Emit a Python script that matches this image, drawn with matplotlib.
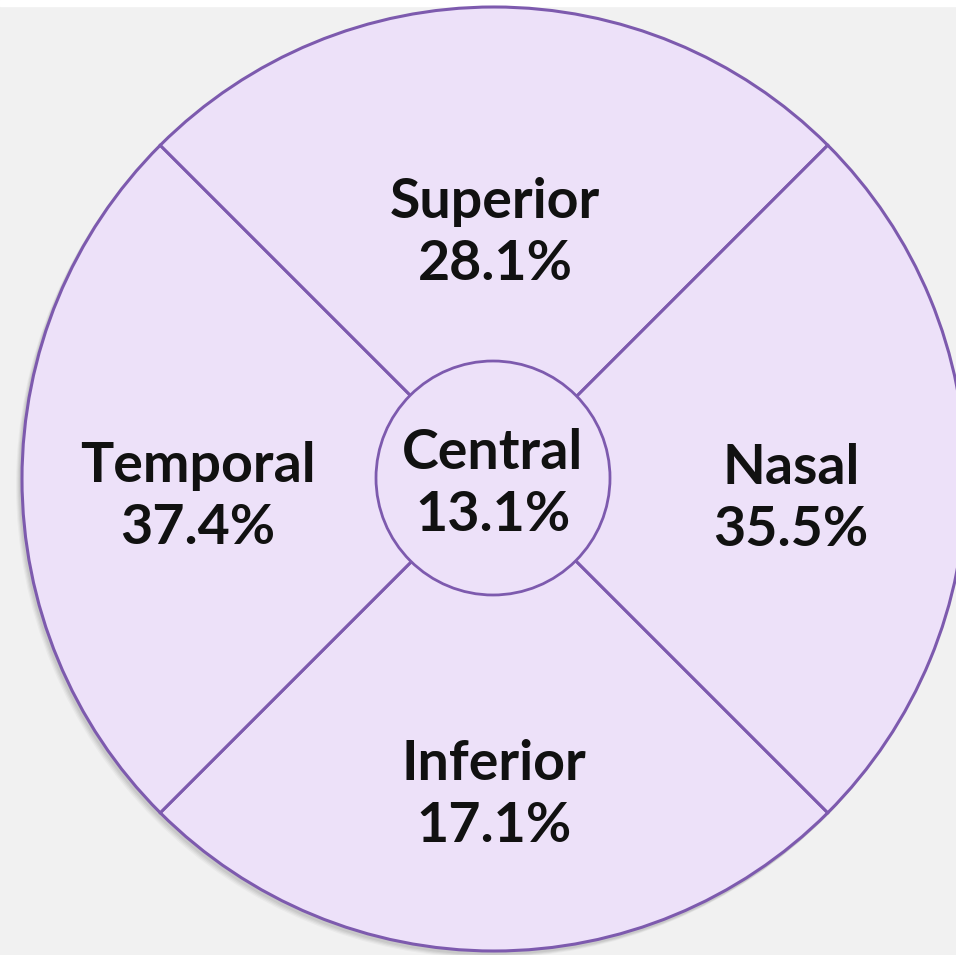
import matplotlib.pyplot as plt
from matplotlib.patches import Circle, Rectangle

# retinal regions and their shares
regions = ["Superior", "Temporal", "Inferior", "Nasal"]
shares = [28.1, 37.4, 17.1, 35.5]
center_name = "Central"
center_share = 13.1

# label anchor points (pixel space, y down)
label_xy = {"Superior": (495, 233), "Temporal": (198, 497),
            "Inferior": (494, 795), "Nasal": (791, 499)}
center_xy = (493, 484)

fill = "#ede1f9"
edge = "#7d5aae"
bg = "#f1f1f1"

fig = plt.figure(figsize=(9.56, 9.55), dpi=100)
fig.patch.set_facecolor(bg)
ax = fig.add_axes([0, 0, 1, 1])

# white strip along the top
ax.add_patch(Rectangle((0, 0), 956, 6, color="white", zorder=0))

cx, cy, R = 494, 479, 472

# soft shadow
for i, a in enumerate([0.05, 0.05, 0.04, 0.03]):
    ax.add_patch(Circle((cx - 2 - i, cy + 3 + i), R + 1, color="black",
                        alpha=a, lw=0, zorder=1))

# four equal quadrants drawn as a pie
ax.pie([1, 1, 1, 1], center=(cx, cy), radius=R, startangle=45,
       colors=[fill] * 4, frame=True,
       wedgeprops=dict(edgecolor=edge, linewidth=2.2, zorder=2))
ax.set_xlim(0, 956)
ax.set_ylim(955, 0)
ax.set_aspect("equal")
ax.axis("off")

# central disc
ax.add_patch(Circle((493, 478), 117, facecolor=fill, edgecolor=edge,
                    lw=2.0, zorder=3))

font = dict(family=["Lato", "DejaVu Sans"], fontweight="bold", fontsize=40,
            color="#111111", ha="center", va="center", linespacing=1.28)

for name, val in zip(regions, shares):
    x, y = label_xy[name]
    ax.text(x, y, f"{name}\n{val:.1f}%", zorder=4, **font)

ax.text(center_xy[0], center_xy[1], f"{center_name}\n{center_share:.1f}%",
        zorder=4, **font)

fig.savefig("out.png", dpi=100, facecolor=bg)
